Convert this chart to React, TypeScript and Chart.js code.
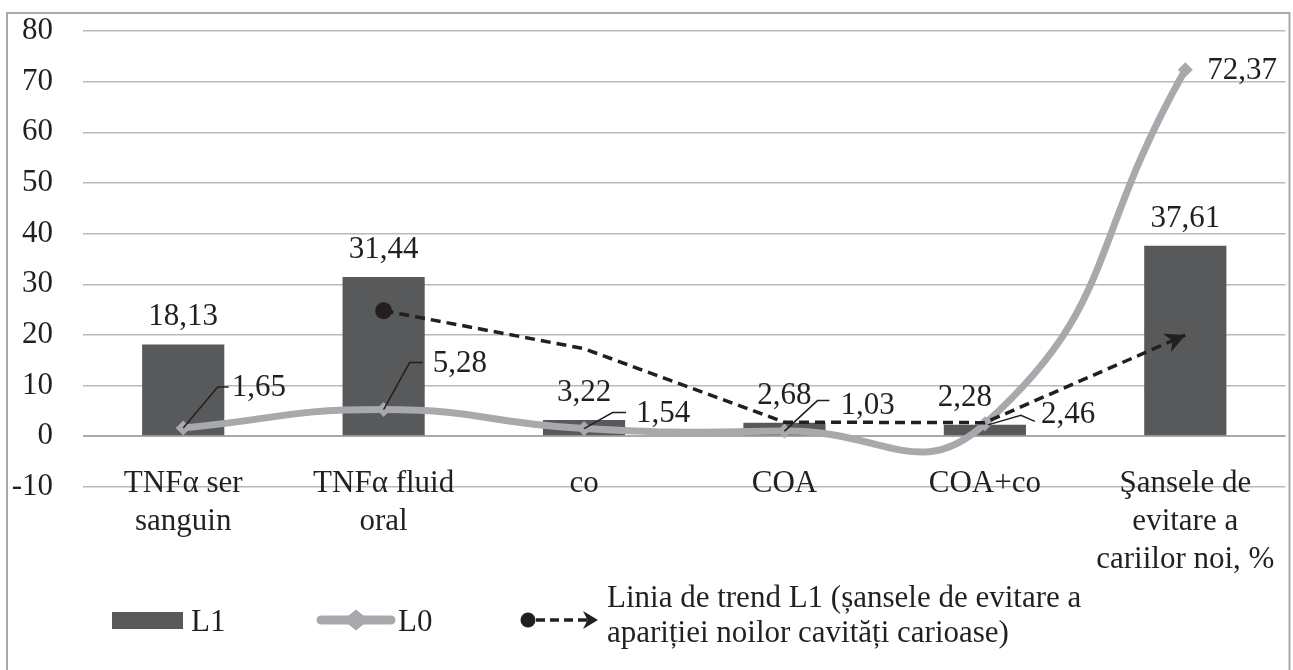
import React, { useEffect, useRef } from "react";
import { Chart, registerables } from "chart.js";

Chart.register(...registerables);

// ---- Data ----
const CATEGORIES: (string | string[])[] = [
  ["TNFα ser", "sanguin"],
  ["TNFα fluid", "oral"],
  "co",
  "COA",
  "COA+co",
  ["Şansele de", "evitare a", "cariilor noi, %"],
];
const L1_VALUES = [18.13, 31.44, 3.22, 2.68, 2.28, 37.61];
const L0_VALUES = [1.65, 5.28, 1.54, 1.03, 2.46, 72.37];
const TREND_VALUES: (number | null)[] = [null, 24.8, 17.3, 2.8, 2.7, 20];
const Y_MIN = -10;
const Y_MAX = 80;
const Y_STEP = 10;
const SERIES_NAMES = ["L1", "L0"];
const TREND_NAME = [
  "Linia de trend L1 (șansele de evitare a",
  "apariției noilor cavități carioase)",
];

// ---- Styles ----
const FONT = "'Liberation Serif', 'Times New Roman', serif";
const FONT_SIZE = 31;
const TEXT = "#231f20";
const BAR_COLOR = "#58595b";
const LINE_COLOR = "#a7a9ac";
const GRID = "#b9b9b9";
const BORDER = "#a9a9a9";

const BAR_LABEL_DX = [0, 0, 0, 0, -20, 0];
const BAR_LABEL_GAP = 19;
const L0_LABEL_LAYOUT = [
  { leader: [[0, 0], [34.5, -41], [45.5, -41]], text: [48.5, -40] },
  { leader: [[0, 0], [26, -47], [39, -47]], text: [49, -46] },
  { leader: [[0, 0], [28.5, -16], [42, -16]], text: [52, -15] },
  { leader: [[0, 0], [33, -30.5], [45, -30.5]], text: [56, -25.5] },
  { leader: [[3, 1], [36, -8.5], [50, -2.5]], text: [56, -9.5] },
  { leader: [], text: [22, 1.5] },
];

const fmt = (v: number) => v.toFixed(2).replace(".", ",");

function drawArrowHead(ctx: CanvasRenderingContext2D, x: number, y: number, angle: number, len: number, half: number) {
  ctx.save();
  ctx.translate(x, y);
  ctx.rotate(angle);
  ctx.beginPath();
  ctx.moveTo(0, 0);
  ctx.lineTo(-len, -half);
  ctx.lineTo(-len * 0.7, 0);
  ctx.lineTo(-len, half);
  ctx.closePath();
  ctx.fillStyle = TEXT;
  ctx.fill();
  ctx.restore();
}

const decorPlugin = {
  id: "decor",
  beforeDraw(chart: any) {
    const ctx = chart.ctx as CanvasRenderingContext2D;
    ctx.save();
    ctx.fillStyle = "#ffffff";
    ctx.fillRect(0, 0, chart.width, chart.height);
    ctx.strokeStyle = BORDER;
    ctx.lineWidth = 2;
    ctx.strokeRect(7, 13, 1282.5, 700);
    ctx.restore();
  },
  afterDatasetsDraw(chart: any) {
    const ctx = chart.ctx as CanvasRenderingContext2D;
    ctx.save();
    ctx.font = `${FONT_SIZE}px ${FONT}`;
    ctx.fillStyle = TEXT;

    // Arrow head at the end of the trend line
    const tMeta = chart.getDatasetMeta(2);
    const n = tMeta.data.length;
    const last = tMeta.data[n - 1];
    const prev = tMeta.data[n - 2];
    drawArrowHead(ctx, last.x, last.y, Math.atan2(last.y - prev.y, last.x - prev.x), 20, 10);

    // Bar labels
    const bMeta = chart.getDatasetMeta(0);
    ctx.textAlign = "center";
    ctx.textBaseline = "alphabetic";
    bMeta.data.forEach((el: any, i: number) => {
      ctx.fillText(fmt(L1_VALUES[i]), el.x + BAR_LABEL_DX[i], el.y - BAR_LABEL_GAP);
    });

    // L0 labels with leader lines
    const lMeta = chart.getDatasetMeta(1);
    ctx.textAlign = "left";
    ctx.textBaseline = "middle";
    ctx.strokeStyle = TEXT;
    ctx.lineWidth = 1.5;
    lMeta.data.forEach((el: any, i: number) => {
      const lay = L0_LABEL_LAYOUT[i];
      if (lay.leader.length) {
        ctx.beginPath();
        lay.leader.forEach((p, k) => {
          if (k === 0) ctx.moveTo(el.x + p[0], el.y + p[1]);
          else ctx.lineTo(el.x + p[0], el.y + p[1]);
        });
        ctx.stroke();
      }
      ctx.fillText(fmt(L0_VALUES[i]), el.x + lay.text[0], el.y + lay.text[1]);
    });
    ctx.restore();
  },
  afterDraw(chart: any) {
    const ctx = chart.ctx as CanvasRenderingContext2D;
    ctx.save();
    ctx.font = `${FONT_SIZE}px ${FONT}`;
    ctx.fillStyle = TEXT;
    ctx.textAlign = "left";
    ctx.textBaseline = "alphabetic";
    const cy = 620;

    // L1
    ctx.fillStyle = BAR_COLOR;
    ctx.fillRect(112, 612, 71, 17);
    ctx.fillStyle = TEXT;
    ctx.fillText(SERIES_NAMES[0], 191, 631);

    // L0
    ctx.strokeStyle = LINE_COLOR;
    ctx.lineWidth = 9;
    ctx.lineCap = "round";
    ctx.beginPath();
    ctx.moveTo(321, cy);
    ctx.lineTo(391, cy);
    ctx.stroke();
    ctx.fillStyle = LINE_COLOR;
    ctx.beginPath();
    ctx.moveTo(356, cy - 10.5);
    ctx.lineTo(369, cy);
    ctx.lineTo(356, cy + 10.5);
    ctx.lineTo(343, cy);
    ctx.closePath();
    ctx.fill();
    ctx.fillStyle = TEXT;
    ctx.fillText(SERIES_NAMES[1], 398, 631);

    // Trend
    ctx.beginPath();
    ctx.arc(528, cy, 7.5, 0, Math.PI * 2);
    ctx.fill();
    ctx.strokeStyle = TEXT;
    ctx.lineWidth = 3.5;
    ctx.lineCap = "butt";
    ctx.setLineDash([9, 5]);
    ctx.beginPath();
    ctx.moveTo(536, cy);
    ctx.lineTo(588, cy);
    ctx.stroke();
    ctx.setLineDash([]);
    drawArrowHead(ctx, 598, cy, 0, 15, 9);
    ctx.fillText(TREND_NAME[0], 607, 607);
    ctx.fillText(TREND_NAME[1], 607, 642);
    ctx.restore();
  },
};

export default function App() {
  const ref = useRef<HTMLCanvasElement>(null);
  useEffect(() => {
    const chart = new Chart(ref.current!, {
      type: "bar",
      data: {
        labels: CATEGORIES as any,
        datasets: [
          {
            type: "bar",
            label: SERIES_NAMES[0],
            data: L1_VALUES,
            backgroundColor: BAR_COLOR,
            barPercentage: 0.41,
            categoryPercentage: 1,
            order: 3,
          },
          {
            type: "line",
            label: SERIES_NAMES[1],
            data: L0_VALUES,
            borderColor: LINE_COLOR,
            borderWidth: 7,
            tension: 0.5,
            borderCapStyle: "round",
            pointStyle: "rectRot",
            pointRadius: 7.5,
            pointBackgroundColor: LINE_COLOR,
            pointBorderWidth: 0,
            order: 2,
          },
          {
            type: "line",
            label: "trend",
            data: TREND_VALUES,
            borderColor: TEXT,
            borderWidth: 3.5,
            borderDash: [10, 6],
            tension: 0,
            pointRadius: [0, 8.5, 0, 0, 0, 0],
            pointBackgroundColor: TEXT,
            pointBorderWidth: 0,
            order: 1,
          },
        ] as any,
      },
      options: {
        responsive: false,
        animation: false,
        layout: { padding: { left: 0, top: 31, right: 7, bottom: 183 } },
        plugins: { legend: { display: false }, tooltip: { enabled: false } },
        scales: {
          x: {
            position: { y: Y_MIN },
            grid: { display: false },
            border: { display: false },
            ticks: {
              color: TEXT,
              font: { family: FONT, size: FONT_SIZE, lineHeight: 1.22 },
              padding: -30,
              autoSkip: false,
              maxRotation: 0,
            },
            afterFit: (s: any) => {
              s.height = 0;
            },
          },
          y: {
            min: Y_MIN,
            max: Y_MAX,
            ticks: {
              stepSize: Y_STEP,
              color: TEXT,
              font: { family: FONT, size: FONT_SIZE },
              padding: 30,
            },
            grid: {
              color: (c: any) => (c.tick && c.tick.value === 0 ? "#a9a9a9" : GRID),
              lineWidth: (c: any) => (c.tick && c.tick.value === 0 ? 2 : 1.5),
              drawTicks: false,
            },
            border: { display: false },
            afterFit: (s: any) => {
              s.width = 83;
              s.paddingTop = 0;
              s.paddingBottom = 0;
            },
          },
        },
      } as any,
      plugins: [decorPlugin],
    });
    return () => chart.destroy();
  }, []);
  return (
    <div style={{ position: "fixed", left: 0, top: 0, width: 1293, height: 670, background: "#fff" }}>
      <canvas ref={ref} width={1293} height={670} style={{ display: "block", width: 1293, height: 670 }} />
    </div>
  );
}
